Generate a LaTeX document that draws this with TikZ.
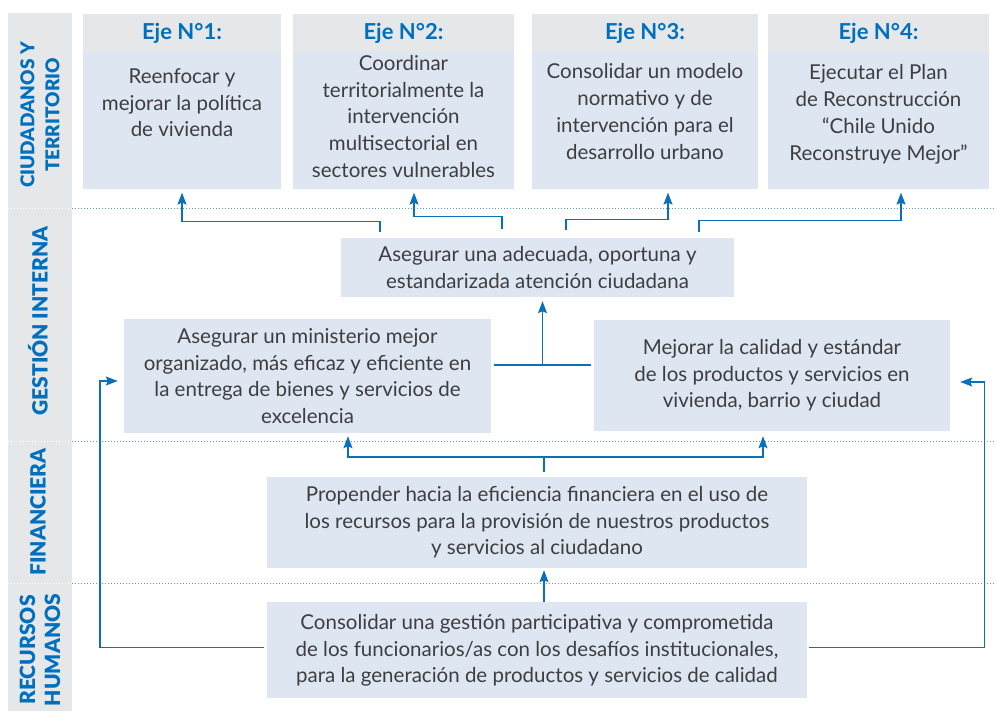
\documentclass[tikz,border=0pt]{standalone}
\usepackage{fontspec}
\setmainfont{Lato}
\newfontfamily\bandfont{Lato Black}
\usepackage{tikz}
\usetikzlibrary{arrows.meta, positioning, calc}
\definecolor{ejeblue}{RGB}{0,112,190}
\definecolor{arrowblue}{RGB}{10,112,186}
\definecolor{dotblue}{RGB}{90,155,205}
\definecolor{boxfill}{RGB}{222,230,242}
\definecolor{headgray}{RGB}{230,231,233}
\definecolor{txtgray}{RGB}{62,62,64}
\tikzset{
  basebox/.style={rectangle,inner sep=0pt,align=center,fill=boxfill,text=txtgray,font=\fontsize{20.5}{26.7}\selectfont},
  headbox/.style={rectangle,inner sep=0pt,fill=headgray,minimum height=38pt,text=ejeblue,font=\fontsize{22}{24}\selectfont\bfseries},
  ejebox/.style={basebox,minimum height=137pt},
  bandlabel/.style={rotate=90,align=center,text=ejeblue,font=\fontsize{21}{25}\selectfont\bandfont},
  sepline/.style={dotblue,line width=1pt,dash pattern=on 1pt off 2pt},
  arr/.style={-{Stealth[length=12pt,width=9pt,inset=2pt]},line width=1.4pt,color=arrowblue},
  lin/.style={line width=1.4pt,color=arrowblue}
}
\newcommand{\ejetxt}[3]{\parbox[c][137pt][t]{#1}{\centering\vspace*{#2}#3}}

\begin{document}
\begin{tikzpicture}[x=1pt,y=1pt]
  \useasboundingbox (0,0) rectangle (996,-711);

  %% left band and separators
  \fill[headgray] (8,-13) rectangle (72,-711);
  \foreach \yy in {209,441,583} {
    \draw[sepline,white] (8,-\yy) -- (72,-\yy);
    \draw[sepline] (72,-\yy) -- (996,-\yy);
  }
  \node[bandlabel,font=\fontsize{19}{25}\selectfont\bandfont] (lciud) at (40,-115) {CIUDADANOS Y\\TERRITORIO};
  \node[bandlabel] (lgest) at (38,-321) {GESTIÓN INTERNA};
  \node[bandlabel] (lfin) at (38,-512) {FINANCIERA};
  \node[bandlabel] (lrh) at (40,-650) {RECURSOS\\HUMANOS};

  %% Ejes
  \node[headbox,minimum width=198pt] (eje1) at (182,-33) {Eje N°1:};
  \node[ejebox,minimum width=198pt,below=0pt of eje1] (eje1b)
    {\ejetxt{196pt}{16pt}{Reenfocar y\\mejorar la política\\de vivienda}};

  \node[headbox,minimum width=221pt] (eje2) at (403.5,-33) {Eje N°2:};
  \node[ejebox,minimum width=221pt,below=0pt of eje2] (eje2b)
    {\ejetxt{219pt}{3pt}{Coordinar\\territorialmente la\\intervención\\multisectorial en\\sectores vulnerables}};

  \node[headbox,minimum width=226pt] (eje3) at (645,-33) {Eje N°3:};
  \node[ejebox,minimum width=226pt,below=0pt of eje3] (eje3b)
    {\ejetxt{224pt}{11.5pt}{Consolidar un modelo\\normativo y de\\intervención para el\\desarrollo urbano}};

  \node[headbox,minimum width=221pt] (eje4) at (878.5,-33) {Eje N°4:};
  \node[ejebox,minimum width=221pt,below=0pt of eje4] (eje4b)
    {\ejetxt{219pt}{12.5pt}{Ejecutar el Plan\\de Reconstrucción\\“Chile Unido\\Reconstruye Mejor”}};

  %% Objetivos
  \node[basebox,minimum width=393pt,minimum height=59pt] (adec) at (537.5,-267.5)
    {Asegurar una adecuada, oportuna y\\estandarizada atención ciudadana};
  \node[basebox,minimum width=367pt,minimum height=114pt] (minis) at (307.5,-376)
    {Asegurar un ministerio mejor\\organizado, más eficaz y eficiente en\\la entrega de bienes y servicios de\\excelencia};
  \node[basebox,minimum width=356pt,minimum height=111pt] (mejorar) at (772,-375.5)
    {Mejorar la calidad y estándar\\de los productos y servicios en\\vivienda, barrio y ciudad};
  \node[basebox,minimum width=540pt,minimum height=91pt] (prop) at (537,-522.5)
    {Propender hacia la eficiencia financiera en el uso de\\los recursos para la provisión de nuestros productos\\y servicios al ciudadano};
  \node[basebox,minimum width=540pt,minimum height=96pt,below=34pt of prop] (cons)
    {Consolidar una gestión participativa y comprometida\\de los funcionarios/as con los desafíos institucionales,\\para la generación de productos y servicios de calidad};

  %% to the ejes
  \draw[arr] ([xshift=39pt,yshift=6pt]adec.north west) -- ++(0,10) -| ([yshift=-3pt]eje1b.south);
  \draw[arr] ([xshift=161pt,yshift=9pt]adec.north west) -- ++(0,12) -| ([xshift=10.5pt,yshift=-3pt]eje2b.south);
  \draw[arr] ([xshift=225pt,yshift=8pt]adec.north west) -- ++(0,10) -| ([xshift=23pt,yshift=-3pt]eje3b.south);
  \draw[arr] ([xshift=358pt,yshift=6pt]adec.north west) -- ++(0,11) -| ([xshift=22.5pt,yshift=-3pt]eje4b.south);

  %% gestion interna
  \draw[lin] ([xshift=3pt,yshift=11pt]minis.east) -- ([xshift=-3pt,yshift=10.5pt]mejorar.west)
    coordinate[midway] (midjoin);
  \draw[arr,shorten >=4pt] (midjoin) -- (midjoin |- adec.south);

  %% financiera
  \draw[lin] ([xshift=7pt,yshift=5pt]prop.north) -- ++(0,15) coordinate (finjoin);
  \draw[arr] (finjoin) -| ([xshift=40.5pt,yshift=-3pt]minis.south);
  \draw[arr] (finjoin) -| ([xshift=-9pt,yshift=-5pt]mejorar.south);

  %% recursos humanos
  \draw[arr] ([xshift=7pt]cons.north) -- ([xshift=7pt,yshift=-2pt]prop.south);
  \draw[arr] ([xshift=-3pt,yshift=3pt]cons.west) -- ++(-164,0) |- ([xshift=-6pt,yshift=-5pt]minis.west);
  \draw[arr] ([xshift=2pt,yshift=3pt]cons.east) -- ++(175,0) |- ([xshift=10pt,yshift=-6.5pt]mejorar.east);
\end{tikzpicture}
\end{document}
